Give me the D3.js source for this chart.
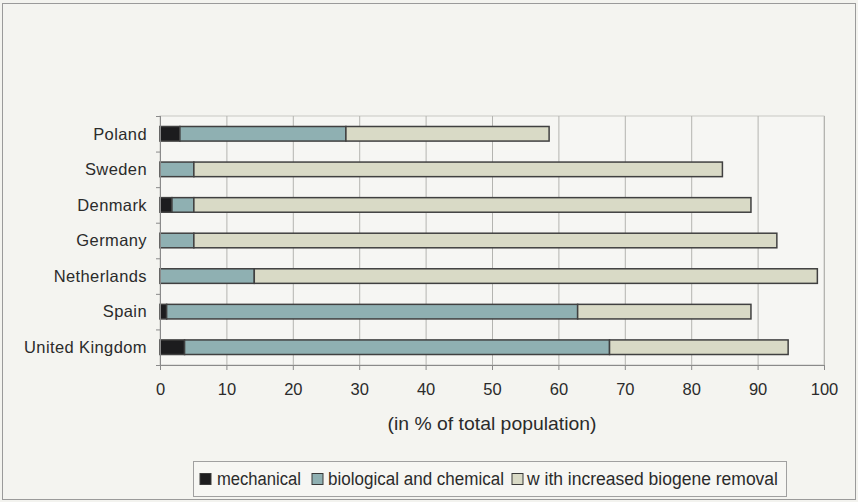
<!DOCTYPE html>
<html>
<head>
<meta charset="utf-8">
<script src="https://cdn.jsdelivr.net/npm/d3@7"></script>
<style>
  html, body { margin: 0; padding: 0; background: #f3f3ef; }
  svg { display: block; }
  text { font-family: "Liberation Sans", Arial, sans-serif; fill: #2b2b2b; }
</style>
</head>
<body>
<svg id="chart" width="858" height="502"></svg>
<script>
// Countries, top to bottom
const countries = ["Poland", "Sweden", "Denmark", "Germany", "Netherlands", "Spain", "United Kingdom"];
// Share of population served by each treatment type (%)
const mechanical = [3.0, 0, 1.8, 0, 0, 1.0, 3.7];
const biological = [25.0, 5.1, 3.3, 5.1, 14.2, 61.9, 64.0];
const increased  = [30.6, 79.6, 83.9, 87.8, 84.8, 26.1, 26.9];
const seriesNames = ["mechanical", "biological and chemical", "w ith increased biogene removal"];
const seriesColors = ["#1c1c1e", "#8fb0b2", "#d9dac6"];
const xTicks = [0, 10, 20, 30, 40, 50, 60, 70, 80, 90, 100];
const xTitle = "(in % of total population)";

const svg = d3.select("#chart");
const W = 858, H = 502;
const plot = { left: 160, right: 824, top: 116, bottom: 365 };

// outer frame
svg.append("rect").attr("x", 2.5).attr("y", 3.5).attr("width", W - 5).attr("height", H - 6)
  .attr("fill", "#f4f4f0").attr("stroke", "#9a9a9a").attr("stroke-width", 1);

const x = d3.scaleLinear().domain([0, 100]).range([plot.left, plot.right]);
const y = d3.scaleBand().domain(countries).range([plot.top, plot.bottom]).paddingInner(0.59).paddingOuter(0.295);
const yOuter = d3.scaleBand().domain(countries).range([plot.top, plot.bottom]);

// plot area
svg.append("rect").attr("x", plot.left).attr("y", plot.top)
  .attr("width", plot.right - plot.left).attr("height", plot.bottom - plot.top)
  .attr("fill", "#f6f6f3").attr("stroke", "#c8c8c4");

// vertical grid lines
svg.append("g").selectAll("line").data(xTicks.slice(1)).join("line")
  .attr("x1", d => x(d) + 0.5).attr("x2", d => x(d) + 0.5)
  .attr("y1", plot.top).attr("y2", plot.bottom)
  .attr("stroke", "#b4b4b0").attr("stroke-width", 1);

// stacked bars
const rows = countries.map((c, i) => ({ country: c, vals: [mechanical[i], biological[i], increased[i]] }));
const stack = d3.stack().keys([0, 1, 2]).value((d, k) => d.vals[k]);
const layers = stack(rows);

svg.append("g").selectAll("g").data(layers).join("g")
  .attr("fill", (d, i) => seriesColors[i])
  .selectAll("rect").data(d => d.filter(s => s[1] - s[0] > 0)).join("rect")
  .attr("x", d => x(d[0]))
  .attr("y", d => y(d.data.country))
  .attr("width", d => x(d[1]) - x(d[0]))
  .attr("height", y.bandwidth())
  .attr("stroke", "#404040").attr("stroke-width", 1.5);

// x axis
const xAxis = svg.append("g").attr("transform", `translate(0,${plot.bottom})`)
  .call(d3.axisBottom(x).tickValues(xTicks).tickSize(5).tickPadding(13.5));
xAxis.select(".domain").attr("stroke", "#8a8a8a");
xAxis.selectAll(".tick line").attr("stroke", "#8a8a8a");
xAxis.selectAll("text").attr("font-size", 16.5).attr("fill", "#2b2b2b")
  .attr("font-family", "'Liberation Sans', Arial, sans-serif");

// y axis with tick marks between categories
const yAxisG = svg.append("g").attr("transform", `translate(${plot.left},0)`);
yAxisG.append("line").attr("x1", 0.5).attr("x2", 0.5).attr("y1", plot.top).attr("y2", plot.bottom)
  .attr("stroke", "#8a8a8a");
const boundaries = countries.map(c => yOuter(c)).concat([plot.bottom]);
yAxisG.selectAll("line.tk").data(boundaries).join("line").attr("class", "tk")
  .attr("x1", -4).attr("x2", 0).attr("y1", d => d + 0.5).attr("y2", d => d + 0.5)
  .attr("stroke", "#8a8a8a");
yAxisG.selectAll("text").data(countries).join("text")
  .attr("x", -13).attr("y", d => y(d) + y.bandwidth() / 2)
  .attr("dy", "0.35em").attr("text-anchor", "end").attr("font-size", 16.5)
  .attr("letter-spacing", 0.4)
  .text(d => d);

// axis title
svg.append("text").attr("x", 492).attr("y", 430)
  .attr("text-anchor", "middle").attr("font-size", 19)
  .attr("textLength", 209).attr("lengthAdjust", "spacingAndGlyphs").text(xTitle);

// legend
const legend = svg.append("g");
legend.append("rect").attr("x", 193.5).attr("y", 461.5).attr("width", 593).attr("height", 35)
  .attr("fill", "#f6f6f3").attr("stroke", "#a0a0a0");
const itemX = [200, 312, 512];
const textX = [217, 328, 527];
const itemLen = [84, 176, 251];
const items = legend.selectAll("g.item").data(seriesNames).join("g").attr("class", "item")
  .attr("transform", "translate(0,479)");
items.append("rect").attr("x", (d, i) => itemX[i]).attr("y", -5.5).attr("width", 11).attr("height", 11)
  .attr("fill", (d, i) => seriesColors[i]).attr("stroke", "#3a3a3a").attr("stroke-width", 1);
items.append("text").attr("x", (d, i) => textX[i]).attr("y", 0).attr("dy", "0.35em").attr("font-size", 18)
  .attr("textLength", (d, i) => itemLen[i]).attr("lengthAdjust", "spacingAndGlyphs")
  .text(d => d);
</script>
</body>
</html>
